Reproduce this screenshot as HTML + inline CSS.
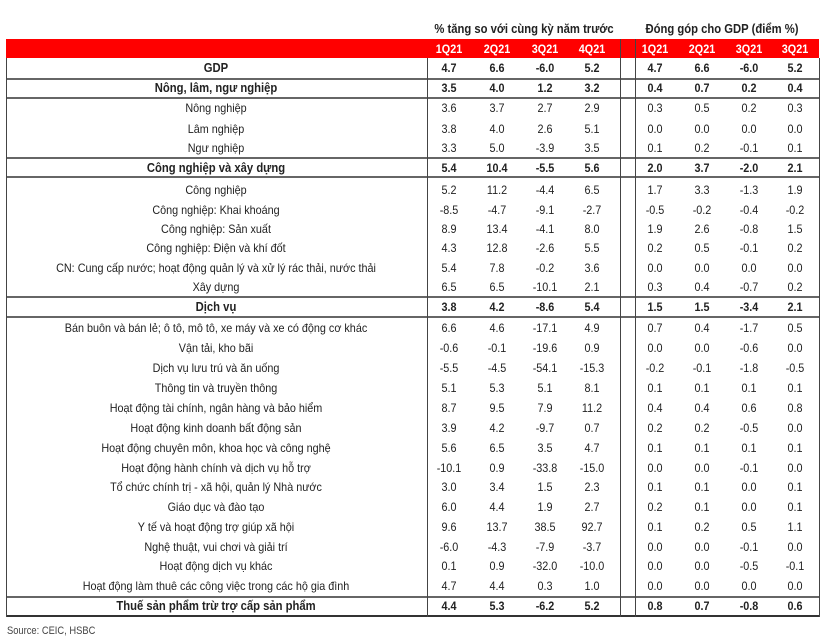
<!DOCTYPE html>
<html><head><meta charset="utf-8"><style>
body{margin:0;width:831px;height:641px;background:#fff;position:relative;overflow:hidden;font-family:"Liberation Sans",Arial,sans-serif;color:#222}
.a{position:absolute}
.t{position:absolute;white-space:nowrap;transform:translate(-50%,-50%) scaleX(0.9);font-size:12px}
.b{font-weight:bold}
.h{position:absolute;background:#555;height:1px}
.v{position:absolute;background:#555;width:1px}
</style></head><body>
<div class="t b" style="left:524px;top:29px;font-size:12.5px">% tăng so với cùng kỳ năm trước</div>
<div class="t b" style="left:722px;top:29px;font-size:12.5px">Đóng góp cho GDP (điểm %)</div>
<div class="a" style="left:6px;top:39px;width:813px;height:19px;background:#f00"></div>
<div id="tbl"></div>
<div class="a" style="left:7px;top:625px;font-size:11px;color:#444;transform:scaleX(0.85);transform-origin:left">Source: CEIC, HSBC</div>
<script>
const quarters=["1Q21","2Q21","3Q21","4Q21"];
const quarters2=["1Q21","2Q21","3Q21","3Q21"];
const labels=["GDP","Nông, lâm, ngư nghiệp","Nông nghiệp","Lâm nghiệp","Ngư nghiệp","Công nghiệp và xây dựng","Công nghiệp","Công nghiệp: Khai khoáng","Công nghiệp: Sản xuất","Công nghiệp: Điện và khí đốt","CN: Cung cấp nước; hoạt động quản lý và xử lý rác thải, nước thải","Xây dựng","Dịch vụ","Bán buôn và bán lẻ; ô tô, mô tô, xe máy và xe có động cơ khác","Vận tải, kho bãi","Dịch vụ lưu trú và ăn uống","Thông tin và truyền thông","Hoạt động tài chính, ngân hàng và bảo hiểm","Hoạt động kinh doanh bất động sản","Hoạt động chuyên môn, khoa học và công nghệ","Hoạt động hành chính và dịch vụ hỗ trợ","Tổ chức chính trị - xã hội, quản lý Nhà nước","Giáo dục và đào tạo","Y tế và hoạt động trợ giúp xã hội","Nghệ thuật, vui chơi và giải trí","Hoạt động dịch vụ khác","Hoạt động làm thuê các công việc trong các hộ gia đình","Thuế sản phẩm trừ trợ cấp sản phẩm"];
const bold=[1,1,0,0,0,1,0,0,0,0,0,0,1,0,0,0,0,0,0,0,0,0,0,0,0,0,0,1];
const yoy=[["4.7","6.6","-6.0","5.2"],["3.5","4.0","1.2","3.2"],["3.6","3.7","2.7","2.9"],["3.8","4.0","2.6","5.1"],["3.3","5.0","-3.9","3.5"],["5.4","10.4","-5.5","5.6"],["5.2","11.2","-4.4","6.5"],["-8.5","-4.7","-9.1","-2.7"],["8.9","13.4","-4.1","8.0"],["4.3","12.8","-2.6","5.5"],["5.4","7.8","-0.2","3.6"],["6.5","6.5","-10.1","2.1"],["3.8","4.2","-8.6","5.4"],["6.6","4.6","-17.1","4.9"],["-0.6","-0.1","-19.6","0.9"],["-5.5","-4.5","-54.1","-15.3"],["5.1","5.3","5.1","8.1"],["8.7","9.5","7.9","11.2"],["3.9","4.2","-9.7","0.7"],["5.6","6.5","3.5","4.7"],["-10.1","0.9","-33.8","-15.0"],["3.0","3.4","1.5","2.3"],["6.0","4.4","1.9","2.7"],["9.6","13.7","38.5","92.7"],["-6.0","-4.3","-7.9","-3.7"],["0.1","0.9","-32.0","-10.0"],["4.7","4.4","0.3","1.0"],["4.4","5.3","-6.2","5.2"]];
const contrib=[["4.7","6.6","-6.0","5.2"],["0.4","0.7","0.2","0.4"],["0.3","0.5","0.2","0.3"],["0.0","0.0","0.0","0.0"],["0.1","0.2","-0.1","0.1"],["2.0","3.7","-2.0","2.1"],["1.7","3.3","-1.3","1.9"],["-0.5","-0.2","-0.4","-0.2"],["1.9","2.6","-0.8","1.5"],["0.2","0.5","-0.1","0.2"],["0.0","0.0","0.0","0.0"],["0.3","0.4","-0.7","0.2"],["1.5","1.5","-3.4","2.1"],["0.7","0.4","-1.7","0.5"],["0.0","0.0","-0.6","0.0"],["-0.2","-0.1","-1.8","-0.5"],["0.1","0.1","0.1","0.1"],["0.4","0.4","0.6","0.8"],["0.2","0.2","-0.5","0.0"],["0.1","0.1","0.1","0.1"],["0.0","0.0","-0.1","0.0"],["0.1","0.1","0.0","0.1"],["0.2","0.1","0.0","0.1"],["0.1","0.2","0.5","1.1"],["0.0","0.0","-0.1","0.0"],["0.0","0.0","-0.5","-0.1"],["0.0","0.0","0.0","0.0"],["0.8","0.7","-0.8","0.6"]];
const rowY=[68,88,108,129,148,168,190,210,229,248,268,287,307,328,348,368,388,408,428,448,468,487,507,527,547,566,586,606];
const hLines=[79,98,158,177,297,317,597,616];
const vLines=[6,427,620,635,819];
const c1=[449,497,545,592], c2=[655,702,749,795];
const T=document.getElementById('tbl');
function add(cls,style,text){const d=document.createElement('div');d.className=cls;d.style.cssText=style;if(text!==undefined)d.textContent=text;T.appendChild(d);return d;}
quarters.forEach((q,i)=>{const d=add('t b','left:'+c1[i]+'px;top:49px;color:#fff;font-size:12px',q);

});
quarters2.forEach((q,i)=>{const d=add('t b','left:'+c2[i]+'px;top:49px;color:#fff;font-size:12px',q);

});
hLines.forEach((y,i)=>{const d=add('h','left:6px;width:814px;top:'+(y-1)+'px;height:2px;background:'+(i==7?'#333':'#666'));

});
vLines.forEach(x=>{const d=add('v','left:'+x+'px;top:'+(x==620||x==635?39:58)+'px;height:'+(x==620||x==635?578:559)+'px;background:#444');

});
labels.forEach((l,r)=>{const fs=bold[r]?'font-size:12.5px;':'';
const d=add('t'+(bold[r]?' b':''),fs+'left:216px;top:'+rowY[r]+'px',l);


for(let i=0;i<4;i++){const e=add('t'+(bold[r]?' b':''),'left:'+c1[i]+'px;top:'+rowY[r]+'px',yoy[r][i]);


const f=add('t'+(bold[r]?' b':''),'left:'+c2[i]+'px;top:'+rowY[r]+'px',contrib[r][i]);

}
});
</script>
</body></html>
